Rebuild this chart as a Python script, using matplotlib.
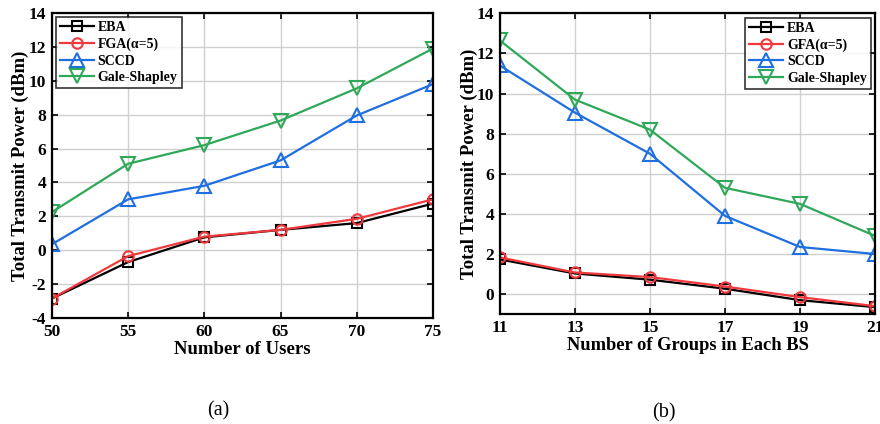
import matplotlib
matplotlib.use("Agg")
import matplotlib.pyplot as plt

plt.rcParams['font.family'] = ['Liberation Serif', 'DejaVu Serif']
plt.rcParams['font.weight'] = 'bold'
plt.rcParams['axes.unicode_minus'] = False

# Panel (a)
users = [50, 55, 60, 65, 70, 75]
a_eba = [-2.85, -0.7, 0.76, 1.2, 1.6, 2.75]
a_fga = [-2.85, -0.35, 0.8, 1.2, 1.85, 3.0]
a_sccd = [0.35, 3.0, 3.8, 5.3, 7.95, 9.8]
a_gs = [2.25, 5.1, 6.2, 7.65, 9.55, 11.9]

# Panel (b)
groups = [11, 13, 15, 17, 19, 21]
b_eba = [1.73, 1.03, 0.72, 0.27, -0.3, -0.65]
b_gfa = [1.83, 1.08, 0.85, 0.38, -0.15, -0.6]
b_sccd = [11.4, 9.05, 7.0, 3.9, 2.35, 2.0]
b_gs = [12.65, 9.7, 8.2, 5.3, 4.5, 2.9]

C_BLACK = '#000000'
C_RED = '#f0393c'
C_BLUE = '#1f6fe0'
C_GREEN = '#2fa85a'

fig = plt.figure(figsize=(8.8, 4.24), dpi=100)
ax1 = fig.add_axes([0.0590, 0.250, 0.4330, 0.7195])
ax2 = fig.add_axes([0.5680, 0.259, 0.4265, 0.7095])

def style(ax):
    ax.grid(True, color='#d0d0d0', linewidth=1.0)
    ax.set_axisbelow(True)
    for s in ax.spines.values():
        s.set_linewidth(1.6)
    ax.tick_params(direction='in', length=4, width=1.2, top=True, right=True, labelsize=12.5, pad=4)
    for lab in ax.get_xticklabels() + ax.get_yticklabels():
        lab.set_fontweight('bold')

kw = dict(linewidth=1.6, markerfacecolor='none', markeredgewidth=1.5)
ms_small = 7.5
ms_tri = 9.5
lfont = {'weight': 'bold', 'size': 10}
legkw = dict(prop=lfont, frameon=True, fancybox=False, edgecolor='black', borderpad=0.3,
             labelspacing=0.25, handlelength=2.4, handletextpad=0.3, borderaxespad=0.3)

ax1.plot(users, a_eba, color=C_BLACK, marker='s', markersize=ms_small, label='EBA', **kw)
ax1.plot(users, a_fga, color=C_RED, marker='o', markersize=ms_small, label='FGA(α=5)', **kw)
ax1.plot(users, a_sccd, color=C_BLUE, marker='^', markersize=ms_tri, label='SCCD', **kw)
ax1.plot(users, a_gs, color=C_GREEN, marker='v', markersize=ms_tri, label='Gale-Shapley', **kw)
ax1.set_xlim(50, 75)
ax1.set_ylim(-4, 14)
ax1.set_xticks(users)
ax1.set_yticks(range(-4, 15, 2))
ax1.set_xlabel('Number of Users', fontsize=13.5, fontweight='bold', labelpad=1)
ax1.set_ylabel('Total Transmit Power (dBm)', fontsize=13.5, fontweight='bold', labelpad=0)
style(ax1)
leg1 = ax1.legend(loc='upper left', **legkw)
leg1.get_frame().set_linewidth(1.2)

ax2.plot(groups, b_eba, color=C_BLACK, marker='s', markersize=ms_small, label='EBA', **kw)
ax2.plot(groups, b_gfa, color=C_RED, marker='o', markersize=ms_small, label='GFA(α=5)', **kw)
ax2.plot(groups, b_sccd, color=C_BLUE, marker='^', markersize=ms_tri, label='SCCD', **kw)
ax2.plot(groups, b_gs, color=C_GREEN, marker='v', markersize=ms_tri, label='Gale-Shapley', **kw)
ax2.set_xlim(11, 21)
ax2.set_ylim(-1, 14)
ax2.set_xticks(groups)
ax2.set_yticks(range(0, 15, 2))
ax2.set_xlabel('Number of Groups in Each BS', fontsize=13.3, fontweight='bold', labelpad=1)
ax2.set_ylabel('Total Transmit Power (dBm)', fontsize=13.5, fontweight='bold', labelpad=-1)
style(ax2)
leg2 = ax2.legend(loc='upper right', **legkw)
leg2.get_frame().set_linewidth(1.2)

fig.text(0.2485, 0.030, '(a)', ha='center', va='center', fontsize=14.5, fontweight='normal')
fig.text(0.7543, 0.027, '(b)', ha='center', va='center', fontsize=14.5, fontweight='normal')

fig.savefig('out.png', dpi=100)
